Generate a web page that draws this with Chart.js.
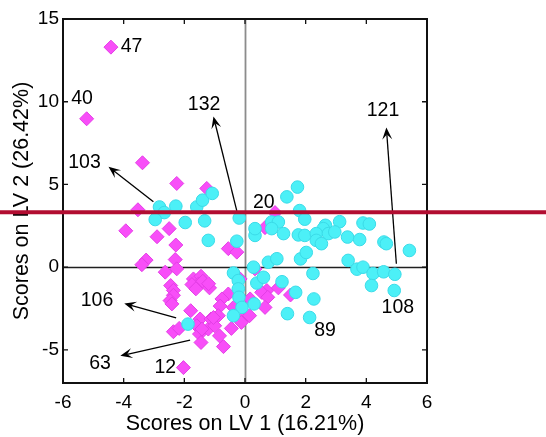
<!DOCTYPE html>
<html>
<head>
<meta charset="utf-8">
<script src="https://cdn.jsdelivr.net/npm/chart.js@4/dist/chart.umd.min.js"></script>
<style>
  html, body { margin: 0; padding: 0; background: #fff; }
  #wrap { width: 546px; height: 437px; }
</style>
</head>
<body>
<div id="wrap"><canvas id="c" width="546" height="437"></canvas></div>
<script>
// Axis ticks
const X_TICKS = [-6, -4, -2, 0, 2, 4, 6];
const Y_TICKS = [-5, 0, 5, 10, 15];

// PLS-DA scores, class 1 (diamonds)
const CLASS1 = [
  [-4.42, 13.3], [-5.22, 8.97], [-3.38, 6.31], [-2.25, 5.06], [-1.26, 4.76],
  [-3.53, 3.47], [-3.93, 2.2], [-2.9, 1.84], [-2.5, 2.33], [-2.28, 1.34],
  [-3.26, 0.43], [-3.4, 0.15], [-2.3, 0.46], [-2.25, -0.1], [-2.63, -0.3],
  [-2.45, -1.11], [-2.36, -1.4], [-2.36, -1.7], [-2.47, -2.02], [-1.7, -0.71],
  [-1.45, -0.55], [-1.53, -1.01], [-1.75, -1.05], [-1.62, -1.31], [-1.39, -0.85],
  [-1.17, -1.25], [-0.55, 1.12], [-0.27, 0.91], [-0.55, -1.62], [-0.76, -1.92],
  [-0.82, -2.35], [-1.79, -2.63], [-1.48, -3.13], [-2.36, -3.9], [-2.17, -3.7],
  [-1.59, -3.54], [-1.5, -4.04], [-1.45, -4.55], [-1.21, -3.74], [-1.12, -3.13],
  [-0.88, -2.93], [-1.0, -3.54], [-0.84, -4.15], [-0.71, -4.8], [-0.45, -3.7],
  [-0.38, -2.43], [-0.05, -3.04], [0.15, -2.93], [-2.03, -6.07], [0.66, 2.39],
  [0.99, 3.3], [0.72, -1.41], [-0.16, -0.71], [0.17, -1.92], [0.55, -1.52],
  [0.75, -1.82], [1.1, -1.25], [1.5, -1.68], [0.33, -0.1], [-1.04, -3.04],
  [-1.42, -3.74], [-0.12, -3.34], [0.66, -2.43], [-2.41, -2.22], [-1.2, -1.0]
];

// PLS-DA scores, class 2 (circles)
const CLASS2 = [
  [-2.82, 3.64], [-2.28, 3.69], [-2.66, 3.3], [-2.96, 2.88], [-1.97, 2.7],
  [-1.59, 3.64], [-1.4, 4.05], [-1.08, 4.46], [-1.33, 2.8], [-0.19, 2.97],
  [1.38, 4.25], [1.73, 4.84], [1.8, 3.42], [1.97, 2.9], [0.88, 2.73],
  [1.1, 2.73], [-1.21, 1.62], [-0.27, 1.57], [0.33, 1.92], [0.33, 2.33],
  [0.88, 2.33], [1.27, 2.03], [1.76, 1.95], [1.97, 1.92], [0.77, 0.3],
  [1.05, 0.51], [1.83, 0.5], [2.02, 0.89], [0.28, 0.0], [-0.38, -0.35],
  [-0.22, -0.81], [0.39, -0.96], [0.61, -0.61], [1.22, -0.88], [1.67, -1.52],
  [-0.22, -1.31], [-0.2, -1.82], [0.3, -2.22], [-0.1, -2.43], [-0.38, -2.93],
  [-1.88, -3.44], [1.4, -2.81], [2.13, -3.04], [2.27, -1.92], [2.24, -0.38],
  [3.12, 2.75], [2.65, 2.53], [2.58, 2.33], [2.35, 2.03], [2.75, 2.03],
  [2.96, 2.13], [2.35, 1.62], [2.52, 1.42], [3.38, 1.82], [3.78, 1.67],
  [3.89, 2.67], [4.1, 2.61], [4.58, 1.52], [4.66, 1.42], [5.42, 1.01],
  [3.4, 0.41], [3.69, -0.12], [3.89, 0.0], [4.22, -0.38], [4.57, -0.28],
  [4.94, -0.43], [4.17, -1.11], [4.92, -1.41]
];

// Sample annotations: text and its position
const LABEL_TEXT = ['47', '40', '103', '132', '121', '20', '106', '63', '12', '89', '108'];
const LABEL_POS = [
  [-3.74, 13.34], [-5.37, 10.16], [-5.29, 6.34], [-1.35, 9.82], [4.55, 9.47],
  [0.62, 3.92], [-4.88, -2.04], [-4.78, -5.8], [-2.63, -6.05], [2.64, -3.86], [5.04, -2.43]
];

// Arrows pointing from a sample towards its annotation
const ARROW_FROM = [[-3.02, 3.95], [-0.27, 3.4], [4.99, 0.21], [-2.27, -3.07], [-1.81, -4.41]];
const ARROW_TO = [[-4.5, 6.07], [-1.04, 9.11], [4.66, 8.44], [-3.98, -2.19], [-4.11, -5.36]];

// Horizontal marker line
const MARK_Y = 3.32;

const FONT = "'Liberation Sans', Arial, Helvetica, sans-serif";
Chart.defaults.font.family = FONT;
Chart.defaults.color = '#000';

function drawArrow(ctx, x1, y1, x2, y2) {
  const a = Math.atan2(y2 - y1, x2 - x1);
  const c = Math.cos(a), s = Math.sin(a);
  const L = 12, W = 5, N = 7;
  ctx.beginPath();
  ctx.moveTo(x1, y1);
  ctx.lineTo(x2 - c * N, y2 - s * N);
  ctx.stroke();
  ctx.beginPath();
  ctx.moveTo(x2, y2);
  ctx.lineTo(x2 - L * c + W * s, y2 - L * s - W * c);
  ctx.lineTo(x2 - N * c, y2 - N * s);
  ctx.lineTo(x2 - L * c - W * s, y2 - L * s + W * c);
  ctx.closePath();
  ctx.fill();
}

const decor = {
  id: 'decor',
  beforeDatasetsDraw(chart) {
    const { ctx, chartArea: a, scales: { x, y } } = chart;
    ctx.save();
    const x0 = Math.round(x.getPixelForValue(0)) + 0.5;
    const y0 = Math.round(y.getPixelForValue(0)) + 0.5;
    ctx.lineWidth = 1.8;
    ctx.strokeStyle = '#8c8c8c';
    ctx.beginPath(); ctx.moveTo(x0, a.top); ctx.lineTo(x0, a.bottom); ctx.stroke();
    ctx.lineWidth = 1.5;
    ctx.strokeStyle = '#202020';
    ctx.beginPath(); ctx.moveTo(a.left, y0); ctx.lineTo(a.right, y0); ctx.stroke();
    ctx.restore();
  },
  afterDatasetsDraw(chart) {
    const { ctx, chartArea: a, scales: { x, y } } = chart;
    ctx.save();
    // arrows
    ctx.strokeStyle = '#000';
    ctx.fillStyle = '#000';
    ctx.lineWidth = 1.3;
    ARROW_FROM.forEach((p, i) => {
      const q = ARROW_TO[i];
      drawArrow(ctx, x.getPixelForValue(p[0]), y.getPixelForValue(p[1]),
                x.getPixelForValue(q[0]), y.getPixelForValue(q[1]));
    });
    // annotations
    ctx.font = '19.5px ' + FONT;
    ctx.textAlign = 'center';
    ctx.textBaseline = 'middle';
    LABEL_TEXT.forEach((t, i) => {
      ctx.fillText(t, x.getPixelForValue(LABEL_POS[i][0]), y.getPixelForValue(LABEL_POS[i][1]));
    });
    // frame
    ctx.lineWidth = 2;
    ctx.strokeStyle = '#111';
    ctx.strokeRect(a.left, a.top, a.right - a.left, a.bottom - a.top);
    // inward tick marks on all four sides
    const tl = 5;
    ctx.lineWidth = 1.3;
    ctx.beginPath();
    X_TICKS.forEach(v => {
      const px = x.getPixelForValue(v);
      ctx.moveTo(px, a.bottom); ctx.lineTo(px, a.bottom - tl);
      ctx.moveTo(px, a.top); ctx.lineTo(px, a.top + tl);
    });
    Y_TICKS.forEach(v => {
      const py = y.getPixelForValue(v);
      ctx.moveTo(a.left, py); ctx.lineTo(a.left + tl, py);
      ctx.moveTo(a.right, py); ctx.lineTo(a.right - tl, py);
    });
    ctx.stroke();
    ctx.restore();
  },
  afterDraw(chart) {
    const { ctx, width, scales: { y } } = chart;
    ctx.save();
    const py = y.getPixelForValue(MARK_Y);
    ctx.strokeStyle = '#b20d31';
    ctx.lineWidth = 4;
    ctx.beginPath(); ctx.moveTo(0, py); ctx.lineTo(width, py); ctx.stroke();
    ctx.restore();
  }
};

const toXY = arr => arr.map(p => ({ x: p[0], y: p[1] }));

new Chart(document.getElementById('c'), {
  type: 'scatter',
  data: {
    datasets: [
      {
        label: 'Class 2',
        data: toXY(CLASS2),
        pointStyle: 'circle',
        pointRadius: 6.3,
        backgroundColor: '#4cf0f7',
        borderColor: '#3bdbe8',
        borderWidth: 1
      },
      {
        label: 'Class 1',
        data: toXY(CLASS1),
        pointStyle: 'rectRot',
        pointRadius: 7,
        backgroundColor: '#f84ef8',
        borderColor: '#e43ee6',
        borderWidth: 1
      }
    ]
  },
  options: {
    responsive: false,
    animation: false,
    events: [],
    layout: { padding: { left: 0, right: 119, top: 19, bottom: 0 } },
    plugins: { legend: { display: false }, tooltip: { enabled: false } },
    scales: {
      x: {
        type: 'linear',
        min: -6, max: 6,
        afterBuildTicks: s => { s.ticks = X_TICKS.map(v => ({ value: v })); },
        afterFit: s => { s.height = 54; },
        grid: { display: false, drawTicks: false },
        border: { display: false },
        ticks: { font: { size: 19 }, color: '#000', padding: 8, maxRotation: 0 },
        title: { display: true, text: 'Scores on LV 1 (16.21%)', font: { size: 21.5 }, color: '#000', padding: 0 }
      },
      y: {
        type: 'linear',
        min: -7, max: 15,
        afterBuildTicks: s => { s.ticks = Y_TICKS.map(v => ({ value: v })); },
        afterFit: s => { s.width = 63; },
        grid: { display: false, drawTicks: false },
        border: { display: false },
        ticks: { font: { size: 19 }, color: '#000', padding: 4 },
        title: { display: true, text: 'Scores on LV 2 (26.42%)', font: { size: 21.5 }, color: '#000', padding: { top: 9, bottom: 0 } }
      }
    }
  },
  plugins: [decor]
});
</script>
</body>
</html>
